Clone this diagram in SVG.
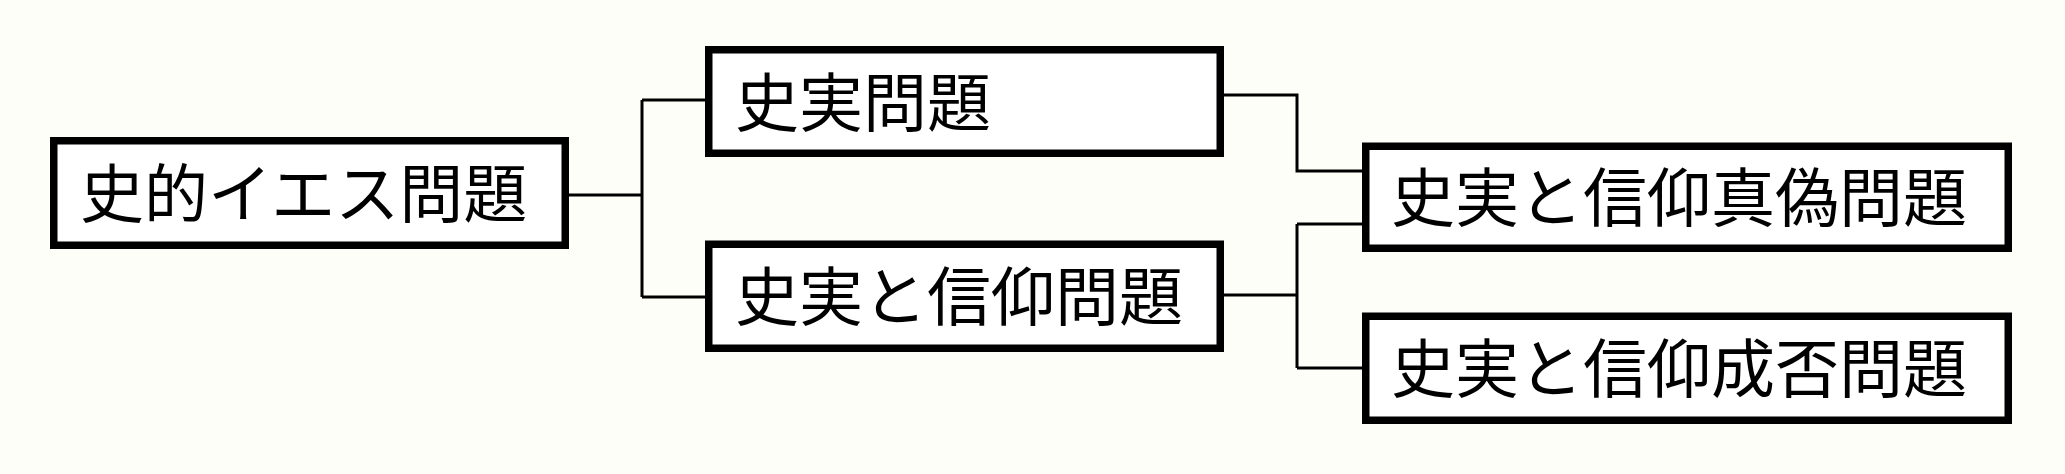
<svg xmlns="http://www.w3.org/2000/svg" width="2065" height="474" viewBox="0 0 2065 474">
<style>
.box{fill:#ffffff;stroke:#000000;stroke-width:7.5}
.lbl{font-family:"Noto Sans CJK JP","Noto Sans CJK SC",sans-serif;font-size:64px;fill:#000000}
.con{fill:none;stroke:#000000;stroke-width:3}
</style>
<rect x="0" y="0" width="2065" height="474" fill="#fefef9"/>
<g id="connectors">
<path class="con" d="M569,195 H642 M642,100 V297 M642,100 H705 M642,297 H705"/>
<path class="con" d="M1224,95 H1297 V171 H1362"/>
<path class="con" d="M1224,295 H1297 M1297,224 V368 M1297,224 H1362 M1297,368 H1362"/>
</g>
<g id="n1">
<rect class="box" x="53.75" y="140.75" width="511.5" height="104.5"/>
<text class="lbl" x="80" y="217">史的イエス問題</text>
</g>
<g id="n2">
<rect class="box" x="708.75" y="49.75" width="511.5" height="103.5"/>
<text class="lbl" x="735" y="125.5">史実問題</text>
</g>
<g id="n3">
<rect class="box" x="708.75" y="244.25" width="511.5" height="104"/>
<text class="lbl" x="735" y="320">史実と信仰問題</text>
</g>
<g id="n4">
<rect class="box" x="1365.75" y="146.25" width="642.5" height="102"/>
<text class="lbl" x="1391" y="221">史実と信仰真偽問題</text>
</g>
<g id="n5">
<rect class="box" x="1365.75" y="316.25" width="642.5" height="104"/>
<text class="lbl" x="1391" y="392">史実と信仰成否問題</text>
</g>
</svg>
